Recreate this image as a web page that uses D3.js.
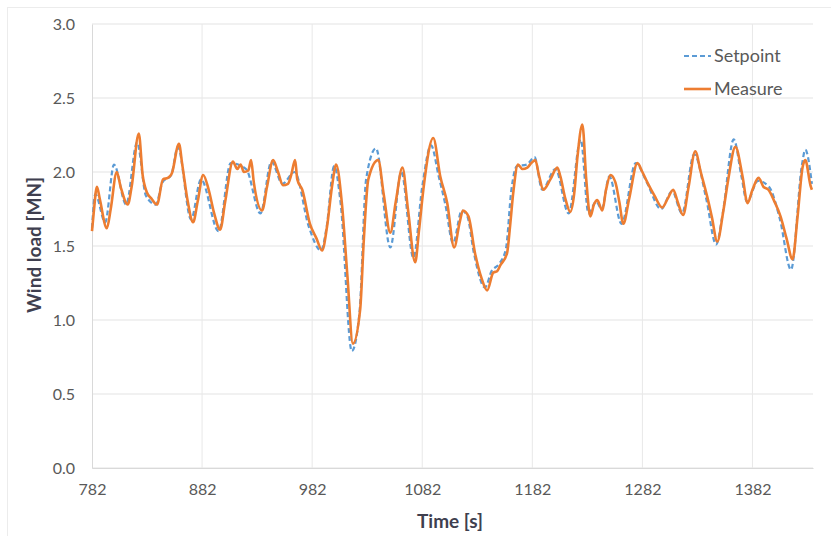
<!DOCTYPE html>
<html>
<head>
<meta charset="utf-8">
<script src="https://cdn.jsdelivr.net/npm/d3@7"></script>
<style>
  body { margin: 0; background: #fff; }
  svg { display: block; font-family: Lato, "Open Sans", sans-serif; }
</style>
</head>
<body>
<svg id="chart" width="831" height="536"></svg>
<script>
// Time [s] / wind load [MN] pairs
const setpoint = [
  [782, 1.62], [785, 1.85], [794, 1.66], [802, 2.05], [813, 1.78], [823, 2.20],
  [831, 1.84], [840, 1.78], [846, 1.93], [854, 1.98], [860, 2.17], [872, 1.68],
  [881, 1.95], [897, 1.60], [908, 2.06], [922, 2.02], [935, 1.72], [945, 2.07],
  [955, 1.92], [966, 2.00], [979, 1.63], [990, 1.47], [995, 1.62], [1002, 2.04],
  [1008, 1.78], [1018, 0.79], [1025, 1.05], [1031, 1.95], [1040, 2.16], [1053, 1.49],
  [1063, 2.00], [1074, 1.42], [1082, 1.90], [1090, 2.18], [1097, 1.97], [1103, 1.78],
  [1110, 1.52], [1118, 1.74], [1123, 1.70], [1129, 1.45], [1139, 1.22], [1145, 1.33],
  [1152, 1.38], [1158, 1.48], [1163, 1.88], [1168, 2.04], [1177, 2.05], [1184, 2.10],
  [1191, 1.88], [1203, 2.02], [1215, 1.72], [1226, 2.22], [1233, 1.72], [1240, 1.80],
  [1245, 1.75], [1252, 1.97], [1263, 1.65], [1276, 2.06], [1286, 1.93], [1299, 1.75],
  [1309, 1.87], [1318, 1.72], [1329, 2.12], [1340, 1.82], [1349, 1.51], [1355, 1.72],
  [1365, 2.22], [1372, 1.97], [1377, 1.80], [1387, 1.94], [1397, 1.90], [1407, 1.68],
  [1417, 1.34], [1427, 2.05], [1430, 2.15], [1436, 1.92]
];

const measure = [
  [782, 1.60], [783.5, 1.72], [786.5, 1.90], [789, 1.82], [795.5, 1.62], [799, 1.75],
  [804.5, 2.00], [808, 1.90], [814.5, 1.78], [818, 1.90], [824.5, 2.26], [828, 1.98],
  [832, 1.86], [836, 1.82], [841, 1.78], [846.5, 1.95], [851, 1.96], [854.5, 1.99],
  [861, 2.19], [864, 2.05], [869, 1.80], [873.8, 1.66], [878, 1.80], [883, 1.98],
  [888, 1.88], [893, 1.72], [898.4, 1.61], [903, 1.80], [910, 2.07], [914, 2.02],
  [917, 2.05], [920, 2.00], [924, 2.01], [926.5, 2.08], [929, 1.93], [936.5, 1.74],
  [941, 1.90], [946.5, 2.08], [951, 2.00], [955.5, 1.91], [960, 1.92], [963, 1.98],
  [966.5, 2.08], [968.5, 1.95], [973, 1.88], [980, 1.65], [986, 1.55], [991, 1.47],
  [995.5, 1.63], [1000, 1.90], [1003.8, 2.05], [1009, 1.79], [1014, 1.30], [1019, 0.84],
  [1025.6, 1.07], [1029, 1.55], [1033, 1.95], [1042, 2.08], [1047, 1.85], [1053, 1.59],
  [1058, 1.80], [1064, 2.03], [1069, 1.75], [1075.6, 1.39], [1079, 1.60], [1083, 1.88],
  [1092, 2.23], [1098.4, 1.97], [1104.7, 1.79], [1111, 1.49], [1116, 1.66], [1119, 1.74],
  [1124, 1.70], [1130, 1.45], [1136, 1.28], [1141, 1.20], [1146.5, 1.32], [1150, 1.33],
  [1153, 1.37], [1159, 1.45], [1162, 1.65], [1164.7, 1.86], [1169, 2.05], [1173, 2.02],
  [1177.5, 2.03], [1181, 2.06], [1184.7, 2.08], [1188, 1.98], [1192, 1.88], [1198.4, 1.95],
  [1204.7, 2.03], [1207.5, 1.97], [1212, 1.82], [1216.5, 1.73], [1220, 1.85], [1223, 2.10],
  [1227.5, 2.32], [1231, 1.95], [1234.7, 1.70], [1238, 1.78], [1241, 1.81], [1245.6, 1.74],
  [1249, 1.88], [1253, 1.98], [1257.5, 1.93], [1261, 1.80], [1264.7, 1.65], [1270, 1.82],
  [1277.5, 2.06], [1282, 2.00], [1286.5, 1.93], [1293, 1.84], [1300, 1.76], [1305, 1.82],
  [1310, 1.88], [1314, 1.80], [1319, 1.71], [1324, 1.90], [1330, 2.14], [1335, 2.00],
  [1341, 1.83], [1345, 1.70], [1350, 1.53], [1355.6, 1.74], [1360, 1.95], [1366.5, 2.17],
  [1373, 1.97], [1377.5, 1.79], [1382, 1.88], [1387.5, 1.96], [1392, 1.90], [1396.5, 1.88],
  [1402, 1.80], [1407.5, 1.70], [1413, 1.55], [1418.4, 1.41], [1423, 1.70], [1427.5, 2.03],
  [1430, 2.08], [1434.7, 1.91], [1436, 1.88]
];

const xTicks = [782, 882, 982, 1082, 1182, 1282, 1382];
const yTicks = [0, 0.5, 1.0, 1.5, 2.0, 2.5, 3.0];

const svg = d3.select("#chart");
const plot = { left: 92, right: 813, top: 24, bottom: 468 };

// faint outer frame of the chart area
svg.append("rect")
  .attr("x", 7.5).attr("y", 7.5)
  .attr("width", 830).attr("height", 535)
  .attr("fill", "none")
  .attr("stroke", "#ececec");

const x = d3.scaleLinear().domain([782, 1437]).range([plot.left, plot.right]);
const y = d3.scaleLinear().domain([0, 3]).range([plot.bottom, plot.top]);

// gridlines
svg.append("g")
  .selectAll("line")
  .data(yTicks)
  .join("line")
  .attr("x1", plot.left).attr("x2", plot.right)
  .attr("y1", (d) => y(d)).attr("y2", (d) => y(d))
  .attr("stroke", "#e3e3e3");

svg.append("g")
  .selectAll("line")
  .data(xTicks.slice(1))
  .join("line")
  .attr("x1", (d) => x(d)).attr("x2", (d) => x(d))
  .attr("y1", plot.top).attr("y2", plot.bottom)
  .attr("stroke", "#e8e8e8");

// axes
const xAxis = svg.append("g")
  .attr("transform", `translate(0,${plot.bottom})`)
  .call(d3.axisBottom(x).tickValues(xTicks).tickFormat(d3.format("d")).tickSize(0).tickPadding(16));

const yAxis = svg.append("g")
  .attr("transform", `translate(${plot.left},0)`)
  .call(d3.axisLeft(y).tickValues(yTicks).tickFormat(d3.format(".1f")).tickSize(0).tickPadding(17));

[xAxis, yAxis].forEach((g) => {
  g.select(".domain").attr("stroke", "#d9d9d9");
  g.selectAll("text")
    .attr("fill", "#595959")
    .style("font-size", "16px")
    .style("font-family", "Lato, sans-serif");
});

// series
const line = d3.line()
  .x((d) => x(d[0]))
  .y((d) => y(d[1]))
  .curve(d3.curveMonotoneX);

svg.append("path")
  .datum(setpoint)
  .attr("d", line)
  .attr("fill", "none")
  .attr("stroke", "#5b9bd5")
  .attr("stroke-width", 2.2)
  .attr("stroke-dasharray", "5,3");

svg.append("path")
  .datum(measure)
  .attr("d", line)
  .attr("fill", "none")
  .attr("stroke", "#ed7d31")
  .attr("stroke-width", 2.6)
  .attr("stroke-linejoin", "round");

// axis titles
svg.append("text")
  .attr("x", 450).attr("y", 528)
  .attr("text-anchor", "middle")
  .attr("fill", "#3f3f4f")
  .style("font-size", "19px")
  .style("font-weight", "bold")
  .text("Time [s]");

svg.append("text")
  .attr("transform", "translate(41,245) rotate(-90)")
  .attr("text-anchor", "middle")
  .attr("fill", "#3f3f4f")
  .style("font-size", "19px")
  .style("font-weight", "bold")
  .text("Wind load [MN]");

// legend
const legend = [
  { name: "Setpoint", color: "#5b9bd5", dash: "5,3", width: 2.2, y: 56 },
  { name: "Measure", color: "#ed7d31", dash: null, width: 2.6, y: 89 }
];

const lg = svg.append("g")
  .selectAll("g")
  .data(legend)
  .join("g")
  .attr("transform", (d) => `translate(684,${d.y})`);

lg.append("line")
  .attr("x1", 0).attr("x2", 27)
  .attr("stroke", (d) => d.color)
  .attr("stroke-width", (d) => d.width)
  .attr("stroke-dasharray", (d) => d.dash);

lg.append("text")
  .attr("x", 30).attr("dy", "0.35em")
  .attr("fill", "#595959")
  .style("font-size", "18px")
  .text((d) => d.name);
</script>
</body>
</html>
